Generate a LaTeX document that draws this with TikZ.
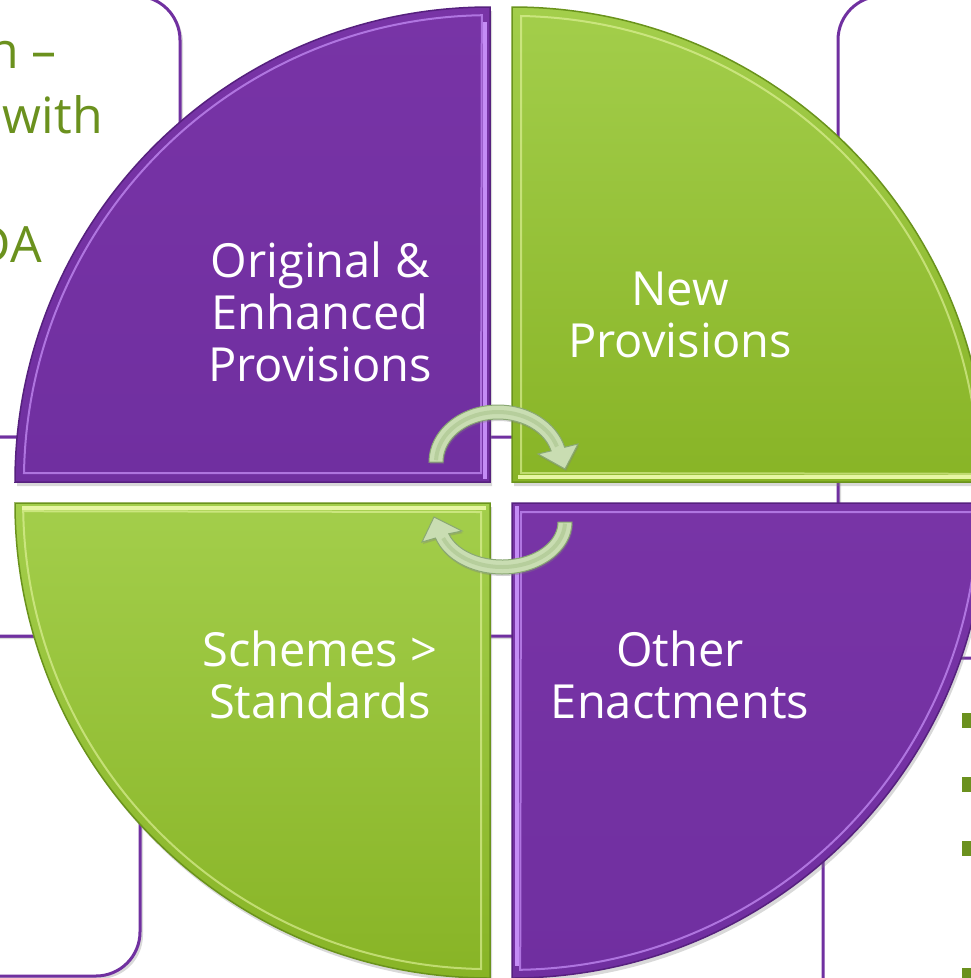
\documentclass[tikz,border=0pt]{standalone}
\usepackage{fontspec}
\setmainfont{Open Sans}
\usetikzlibrary{shadows}

\definecolor{boxpurple}{HTML}{7030A0}
\definecolor{textgreen}{HTML}{6B911E}
\definecolor{qpurpletop}{HTML}{7834A6}
\definecolor{qpurplebot}{HTML}{702FA0}
\definecolor{qpurpledark}{HTML}{56217E}
\definecolor{qpurplelight}{HTML}{C48CF5}
\definecolor{qgreentop}{HTML}{A3CE4B}
\definecolor{qgreenbot}{HTML}{88B426}
\definecolor{qgreendark}{HTML}{6A931C}
\definecolor{qgreenlight}{HTML}{E6F6A2}
\definecolor{arrowfill}{HTML}{C9DDB2}
\definecolor{arrowline}{HTML}{8AA874}
\definecolor{arrowmid}{HTML}{B6CE9C}

\begin{document}
\begin{tikzpicture}[x=1pt,y=-1pt,
  bgbox/.style={draw=boxpurple, line width=3pt, fill=white, rounded corners=44pt,
    drop shadow={shadow xshift=3pt, shadow yshift=-3pt, opacity=.3}},
  quadpurple/.style={top color=qpurpletop, bottom color=qpurplebot, draw=qpurpledark, line width=1.5pt,
    drop shadow={shadow xshift=2pt, shadow yshift=-4pt, opacity=.3}},
  quadgreen/.style={top color=qgreentop, bottom color=qgreenbot, draw=qgreendark, line width=1.5pt,
    drop shadow={shadow xshift=2pt, shadow yshift=-4pt, opacity=.3}},
  bevelpurple/.style={draw=qpurplelight, line width=2pt, opacity=.75},
  bevelgreen/.style={draw=qgreenlight, line width=2pt, opacity=.6},
  cyclearrow/.style={fill=arrowfill, draw=arrowline, line width=1pt,
    drop shadow={shadow xshift=1pt, shadow yshift=-2pt, opacity=.35}},
  qlabel/.style={text=white, align=center, inner sep=0pt, font=\fontsize{47}{52}\selectfont},
  boxtext/.style={text=textgreen, anchor=base east, inner sep=0pt, font=\fontsize{50}{60}\selectfont}
]
\useasboundingbox (0,0) rectangle (971,978);
\clip (0,0) rectangle (971,978);

% Boxes behind the circle
\path[bgbox] (-80,-4) rectangle (180,437);
\path[bgbox] (-80,636) rectangle (140,976);
\path[bgbox] (838,-4) rectangle (1100,470);
\path[bgbox] (-80,437) rectangle (838,636);
\path[bgbox] (823,658) rectangle (1100,1040);

% Text of the left box
\node[boxtext] (boxline1) at (57,68) {n –};
\node[boxtext] (boxline2) at (103,133) {with};
\node[boxtext] (boxline3) at (42,262) {DA};

% Bullets of the right box
\foreach \by in {713,777,841,968}
  \fill[textgreen] (962,\by) rectangle (977,\by+15);

% Quadrants
\path[quadpurple] (490,482) -- (15,482) arc[start angle=180, end angle=270, radius=475] -- cycle;
\path[quadgreen] (512,482) -- (512,7) arc[start angle=270, end angle=360, radius=475] -- cycle;
\path[quadgreen] (490,503) -- (490,978) arc[start angle=90, end angle=180, radius=475] -- cycle;
\path[quadpurple] (512,503) -- (987,503) arc[start angle=0, end angle=90, radius=475] -- cycle;

% Bevels
\draw[bevelpurple] (481,473) -- (24,473) arc[start angle=181, end angle=269, radius=466] -- cycle;
\draw[bevelgreen] (521,473) -- (521,16) arc[start angle=271, end angle=359, radius=466] -- cycle;
\draw[bevelgreen] (481,512) -- (481,969) arc[start angle=91, end angle=179, radius=466] -- cycle;
\draw[bevelpurple] (521,512) -- (978,512) arc[start angle=1, end angle=89, radius=466] -- cycle;
\draw[qpurplelight, line width=4pt] (485,22) -- (485,479);
\draw[qpurplelight, line width=4pt] (517,506) -- (517,966);
\draw[qgreenlight, line width=4pt] (518,477) -- (980,477);
\draw[qgreenlight, line width=4pt] (22,508) -- (486,508);

% Labels
\node[qlabel] (orig) at (320,312) {Original \&\\Enhanced\\Provisions};
\node[qlabel] (newprov) at (680,315) {New\\Provisions};
\node[qlabel] (schemes) at (320,675) {Schemes >\\Standards};
\node[qlabel] (other) at (680,675) {Other\\Enactments};

% Cycle arrows
\begin{scope}[shift={(498,462)}]
  \path[cyclearrow] (180:69 and 57) arc[start angle=180, end angle=345, x radius=69, y radius=57]
    -- (80,-18) -- (67,7) -- (40,-8)
    -- (345:55 and 43) arc[start angle=345, end angle=180, x radius=55, y radius=43] -- cycle;
  \draw[arrowmid, line width=4pt] (182:62 and 50) arc[start angle=182, end angle=342, x radius=62, y radius=50];
\end{scope}
\begin{scope}[shift={(502,522)}]
  \path[cyclearrow] (0:70 and 52) arc[start angle=0, end angle=162, x radius=70, y radius=52]
    -- (-80,20) -- (-68,-5) -- (-40,9)
    -- (162:56 and 38) arc[start angle=162, end angle=0, x radius=56, y radius=38] -- cycle;
  \draw[arrowmid, line width=4pt] (2:63 and 45) arc[start angle=2, end angle=159, x radius=63, y radius=45];
\end{scope}
\end{tikzpicture}
\end{document}
